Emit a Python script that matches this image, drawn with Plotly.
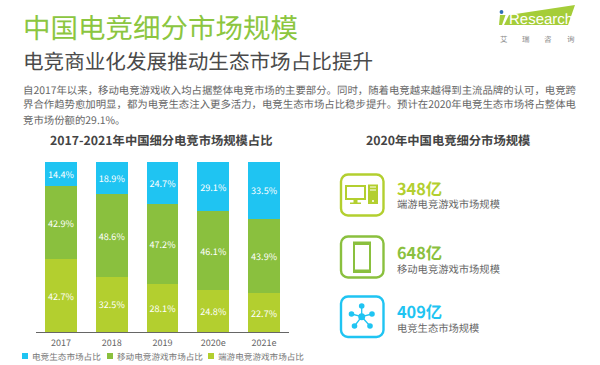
import plotly.graph_objects as go

W, H = 600, 365
FONT = "Noto Sans CJK SC"
years = ["2017", "2018", "2019", "2020e", "2021e"]
eco = [14.4, 18.9, 24.7, 29.1, 33.5]
mobile = [42.9, 48.6, 47.2, 46.1, 43.9]
pc = [42.7, 32.5, 28.1, 24.8, 22.7]
series_names = ["端游电竞游戏市场占比", "移动电竞游戏市场占比", "电竞生态市场占比"]
sizes = ["348亿", "648亿", "409亿"]
size_names = ["端游电竞游戏市场规模", "移动电竞游戏市场规模", "电竞生态市场规模"]

BLUE, GREEN, LIME = "#1FC4F2", "#8AC03E", "#B3CF2F"
TEXT = "#666666"


def fx(x):
    return x / W


def fy(y):
    return 1 - y / H


def path(pts, close=True):
    s = "M" + " L".join(f"{fx(x):.5f},{fy(y):.5f}" for x, y in pts)
    return s + (" Z" if close else "")


def rrect(x0, y0, x1, y1, r):
    k = r * 0.45
    return (
        f"M{fx(x0+r):.5f},{fy(y0):.5f} L{fx(x1-r):.5f},{fy(y0):.5f} "
        f"C{fx(x1-k):.5f},{fy(y0):.5f} {fx(x1):.5f},{fy(y0+k):.5f} {fx(x1):.5f},{fy(y0+r):.5f} "
        f"L{fx(x1):.5f},{fy(y1-r):.5f} "
        f"C{fx(x1):.5f},{fy(y1-k):.5f} {fx(x1-k):.5f},{fy(y1):.5f} {fx(x1-r):.5f},{fy(y1):.5f} "
        f"L{fx(x0+r):.5f},{fy(y1):.5f} "
        f"C{fx(x0+k):.5f},{fy(y1):.5f} {fx(x0):.5f},{fy(y1-k):.5f} {fx(x0):.5f},{fy(y1-r):.5f} "
        f"L{fx(x0):.5f},{fy(y0+r):.5f} "
        f"C{fx(x0):.5f},{fy(y0+k):.5f} {fx(x0+k):.5f},{fy(y0):.5f} {fx(x0+r):.5f},{fy(y0):.5f} Z"
    )


fig = go.Figure()
for name, vals, col in [(series_names[0], pc, LIME), (series_names[1], mobile, GREEN), (series_names[2], eco, BLUE)]:
    fig.add_trace(go.Bar(
        x=years, y=vals, name=name, marker=dict(color=col, line_width=0), showlegend=False,
        text=[f"{v:.1f}%" for v in vals], textposition="inside", insidetextanchor="middle",
        textangle=0, textfont=dict(color="white", size=10, family=FONT),
    ))

ann = []


def t(x, y, s, size, color=TEXT, bold=False, anchor="left", family=FONT):
    ann.append(dict(
        xref="paper", yref="paper", x=fx(x - 1.5 if anchor == "left" else x), y=fy(y),
        text=f"<b>{s}</b>" if bold else s,
        showarrow=False, xanchor=anchor, yanchor="middle",
        font=dict(size=size, color=color, family=family), align="left",
    ))


t(22, 26, "中国电竞细分市场规模", 27.5, "#8CC63F")
t(22, 60, "电竞商业化发展推动生态市场占比提升", 20.6, "#4A4A4A")
t(22, 89, "自2017年以来，移动电竞游戏收入均占据整体电竞市场的主要部分。同时，随着电竞越来越得到主流品牌的认可，电竞跨", 10.4)
t(22, 104, "界合作趋势愈加明显，都为电竞生态注入更多活力，电竞生态市场占比稳步提升。预计在2020年电竞生态市场将占整体电", 10.4)
t(22, 119, "竞市场份额的29.1%。", 10.4)
t(161, 140, "2017-2021年中国细分电竞市场规模占比", 12.3, "#444444", True, "center")
t(448, 140, "2020年中国电竞细分市场规模", 12.3, "#444444", True, "center")

ys = [(188, 203), (252, 268), (311, 327)]
cols = [LIME, GREEN, BLUE]
for (a, b), s, n, c in zip(ys, sizes, size_names, cols):
    t(396, a, s, 16.3, c, True)
    t(396, b, n, 10.3, "#666666")

shapes = []


def fill_rect(x0, y0, x1, y1, c):
    shapes.append(dict(type="rect", xref="paper", yref="paper", x0=fx(x0), x1=fx(x1), y0=fy(y1), y1=fy(y0),
                       fillcolor=c, line_width=0))


def dot(x, y, r, c):
    shapes.append(dict(type="circle", xref="paper", yref="paper", x0=fx(x-r), x1=fx(x+r), y0=fy(y+r), y1=fy(y-r),
                       fillcolor=c, line_width=0))


# legend drawn by hand: plotly's own swatches cannot be this small
for sx, tx, name, c in [(22, 31, series_names[2], BLUE), (107, 116, series_names[1], GREEN), (208, 217, series_names[0], LIME)]:
    fill_rect(sx, 353, sx + 6, 359, c)
    t(tx, 356, name, 8.6, "#777777")

# logo
LOGO = "#A5CD39"
shapes.append(dict(type="path", xref="paper", yref="paper", line_width=0, fillcolor=LOGO,
                   path=path([(509, 15), (575, 5), (568, 25), (504, 25)])))
shapes.append(dict(type="path", xref="paper", yref="paper", line_width=0, fillcolor=LOGO,
                   path=path([(500, 15), (505.5, 15), (502, 25), (499, 25)])))
dot(501.5, 12, 1.9, "#2F6FB5")
t(508, 18, "Research", 15, "white", family="Liberation Sans")
for cx_, ch in zip([504, 526, 548, 571], "艾瑞咨询"):
    t(cx_, 38, ch, 7.5, "#888888", anchor="center")

# icon frames
for (y0, y1), c in zip([(174.5, 215.5), (236.5, 277.5), (296.5, 337)], cols):
    shapes.append(dict(type="path", xref="paper", yref="paper", path=rrect(341, y0, 383.5, y1, 7),
                       line=dict(color=c, width=2.4), fillcolor="white"))

# monitor + tower
fill_rect(345, 185, 366, 200, LIME)
fill_rect(347, 187, 364, 198, "white")
fill_rect(353.5, 200, 357.5, 203, LIME)
fill_rect(350, 202.5, 361, 204, LIME)
fill_rect(368, 184.5, 378, 204, LIME)
fill_rect(370, 186.5, 376, 187.5, "white")
fill_rect(370, 189.5, 376, 190.5, "white")
dot(373, 201, 1, "white")
# phone
fill_rect(353, 241.5, 371, 273, GREEN)
fill_rect(355, 245, 369, 269.5, "white")
# network
cx, cy = 361.7, 316.7
for nx, ny in [(361.7, 306), (351.5, 314), (372, 314), (354.5, 326), (370, 326)]:
    shapes.append(dict(type="line", xref="paper", yref="paper", x0=fx(cx), y0=fy(cy), x1=fx(nx), y1=fy(ny),
                       line=dict(color=BLUE, width=1.3)))
    dot(nx, ny, 2.8, BLUE)
dot(cx, cy, 3.5, BLUE)

fig.update_layout(
    width=W, height=H, autosize=False, margin=dict(l=0, r=0, t=0, b=0),
    paper_bgcolor="white", plot_bgcolor="white", barmode="stack", bargap=0.37,
    font=dict(family=FONT, color=TEXT), showlegend=False,
    xaxis=dict(domain=[fx(35.6), fx(289.4)], showgrid=False, showline=True, linecolor="#666666", linewidth=1,
               ticks="", tickfont=dict(size=9, color="#666666", family=FONT), fixedrange=True, automargin=False,
               ticklabelstandoff=2),
    yaxis=dict(domain=[fy(332), fy(162)], range=[0, 100], visible=False, fixedrange=True),
    annotations=ann, shapes=shapes,
)
POST = (
    "document.body.style.margin='0';document.body.style.overflow='hidden';"
    "var s=document.createElement('style');s.textContent='svg text{text-rendering:geometricPrecision}';"
    "document.head.appendChild(s);"
)
fig.write_html("out.html", post_script=POST, config=dict(displayModeBar=False))
